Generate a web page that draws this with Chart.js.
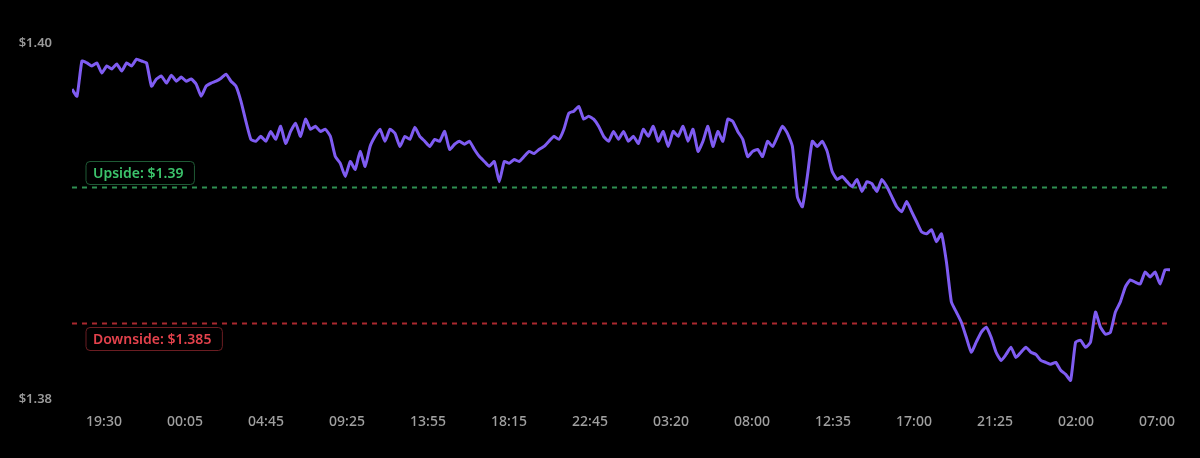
<!DOCTYPE html>
<html><head><meta charset="utf-8">
<script src="https://cdn.jsdelivr.net/npm/chart.js@4/dist/chart.umd.min.js"></script>
<style>html,body{margin:0;padding:0;background:#000;}#wrap{width:1200px;height:458px;}</style>
</head><body><div id="wrap"><canvas id="c"></canvas></div>
<script>
const prices = [1.39357,1.39331,1.39460,1.39453,1.39442,1.39453,1.39416,1.39442,1.39431,1.39449,1.39423,1.39453,1.39442,1.39467,1.39460,1.39453,
1.39368,1.39394,1.39405,1.39379,1.39408,1.39386,1.39401,1.39386,1.39394,1.39375,1.39331,1.39368,1.39379,1.39386,1.39397,1.39412,1.39386,1.39368,
1.39313,1.39239,1.39173,1.39166,1.39184,1.39166,1.39202,1.39173,1.39221,1.39158,1.39202,1.39232,1.39184,1.39247,1.39210,1.39221,1.39202,1.39210,1.39184,
1.39110,1.39085,1.39037,1.39092,1.39063,1.39129,1.39074,1.39147,1.39184,1.39210,1.39166,1.39210,1.39195,1.39147,1.39184,1.39173,1.39217,1.39184,1.39166,
1.39147,1.39173,1.39166,1.39202,1.39136,1.39155,1.39166,1.39155,1.39166,1.39136,1.39110,1.39092,1.39074,1.39092,1.39018,1.39092,1.39085,1.39099,1.39092,
1.39110,1.39129,1.39121,1.39136,1.39147,1.39166,1.39184,1.39173,1.39210,1.39269,1.39276,1.39294,1.39247,1.39258,1.39247,1.39221,1.39184,1.39166,1.39202,
1.39173,1.39202,1.39166,1.39184,1.39158,1.39210,1.39184,1.39221,1.39166,1.39202,1.39147,1.39202,1.39184,1.39221,1.39166,1.39210,1.39129,1.39166,1.39221,
1.39147,1.39202,1.39166,1.39247,1.39239,1.39202,1.39173,1.39110,1.39129,1.39136,1.39110,1.39166,1.39147,1.39184,1.39221,1.39195,1.39147,1.38963,1.38926,
1.39037,1.39166,1.39147,1.39166,1.39129,1.39055,1.39026,1.39037,1.39018,1.39000,1.39026,1.38982,1.39018,1.39011,1.38982,1.39026,1.39000,1.38963,1.38926,
1.38908,1.38945,1.38908,1.38871,1.38834,1.38827,1.38842,1.38798,1.38827,1.38724,1.38577,1.38540,1.38503,1.38448,1.38393,1.38430,1.38466,1.38485,1.38448,
1.38393,1.38363,1.38385,1.38411,1.38374,1.38393,1.38411,1.38393,1.38385,1.38363,1.38356,1.38349,1.38356,1.38327,1.38312,1.38290,1.38430,1.38437,1.38411,
1.38430,1.38540,1.38485,1.38459,1.38466,1.38540,1.38577,1.38632,1.38658,1.38650,1.38643,1.38687,1.38669,1.38687,1.38643,1.38695,1.38695];
const tickLabels = ["19:30","00:05","04:45","09:25","13:55","18:15","22:45","03:20","08:00","12:35","17:00","21:25","02:00","07:00"];
const yMin = 1.38221, yMax = 1.39526;
const upside = 1.39, downside = 1.385;
const upsideLabel = "Upside: $1.39", downsideLabel = "Downside: $1.385";

const N = prices.length;
const pts = prices.map((v,i)=>({x:i,y:v}));
const tickPos = tickLabels.map((_,i)=>(32 + 81*i)/1098*(N-1));

function rr(ctx,x,y,w,h,r){ctx.beginPath();ctx.moveTo(x+r,y);ctx.arcTo(x+w,y,x+w,y+h,r);ctx.arcTo(x+w,y+h,x,y+h,r);ctx.arcTo(x,y+h,x,y,r);ctx.arcTo(x,y,x+w,y,r);ctx.closePath();}
const levels = {
  id:'levels',
  beforeDatasetsDraw(chart){
    const {ctx, chartArea:a, scales:{y}} = chart;
    const items = [[upside,'#2f8f52','#1f5a35','#3cc46c',upsideLabel,true],[downside,'#a9282f','#6a1d22','#e4424c',downsideLabel,false]];
    ctx.save();
    for (const [v,lc,bc,tc,txt,above] of items){
      const py = Math.round(y.getPixelForValue(v))+0.5;
      ctx.setLineDash([5,5]); ctx.strokeStyle=lc; ctx.lineWidth=2;
      ctx.beginPath(); ctx.moveTo(a.left,py); ctx.lineTo(a.right,py); ctx.stroke();
      ctx.setLineDash([]);
      ctx.font='600 14px "Noto Sans", Roboto, sans-serif';
      const w = ctx.measureText(txt).width + 18, h = 23;
      const by = above ? py-26 : py+4;
      rr(ctx,86,by,w,h,4); ctx.fillStyle='rgba(0,0,0,0.85)'; ctx.fill();
      ctx.lineWidth=1; ctx.strokeStyle=bc; ctx.stroke();
      ctx.fillStyle=tc; ctx.textBaseline='middle'; ctx.fillText(txt,93,by+h/2+1);
    }
    ctx.restore();
  }
};
const bg = {id:'bg',beforeDraw(c){c.ctx.save();c.ctx.fillStyle='#000';c.ctx.fillRect(0,0,c.width,c.height);c.ctx.restore();}};

new Chart(document.getElementById('c'),{
  type:'line',
  data:{datasets:[{data:pts,borderColor:'#7f5cf2',borderWidth:3,pointRadius:0,tension:0.15,fill:false}]},
  options:{
    responsive:true,maintainAspectRatio:false,animation:false,
    layout:{padding:{left:0,right:30,top:43,bottom:22}},
    plugins:{legend:{display:false},tooltip:{enabled:false}},
    scales:{
      x:{type:'linear',min:0,max:N-1,grid:{display:false},border:{display:false},
        afterBuildTicks(s){s.ticks=tickPos.map(v=>({value:v}));},
        ticks:{autoSkip:false,maxRotation:0,color:'#a0a0a0',font:{size:14,weight:'500',family:'"Noto Sans", Roboto, sans-serif'},padding:6,
          callback:(v,i)=>tickLabels[i]}},
      y:{min:yMin,max:yMax,grid:{display:false},border:{display:false},
        afterFit(s){s.width=72;},
        afterBuildTicks(s){s.ticks=[{value:yMin},{value:yMax}];},
        ticks:{color:'#9a9a9a',padding:12,font:{size:13,weight:'600',family:'"Noto Sans", Roboto, sans-serif'},
          callback:v=>'$'+Number(v).toFixed(2)}}
    }
  },
  plugins:[bg,levels]
});
</script></body></html>
